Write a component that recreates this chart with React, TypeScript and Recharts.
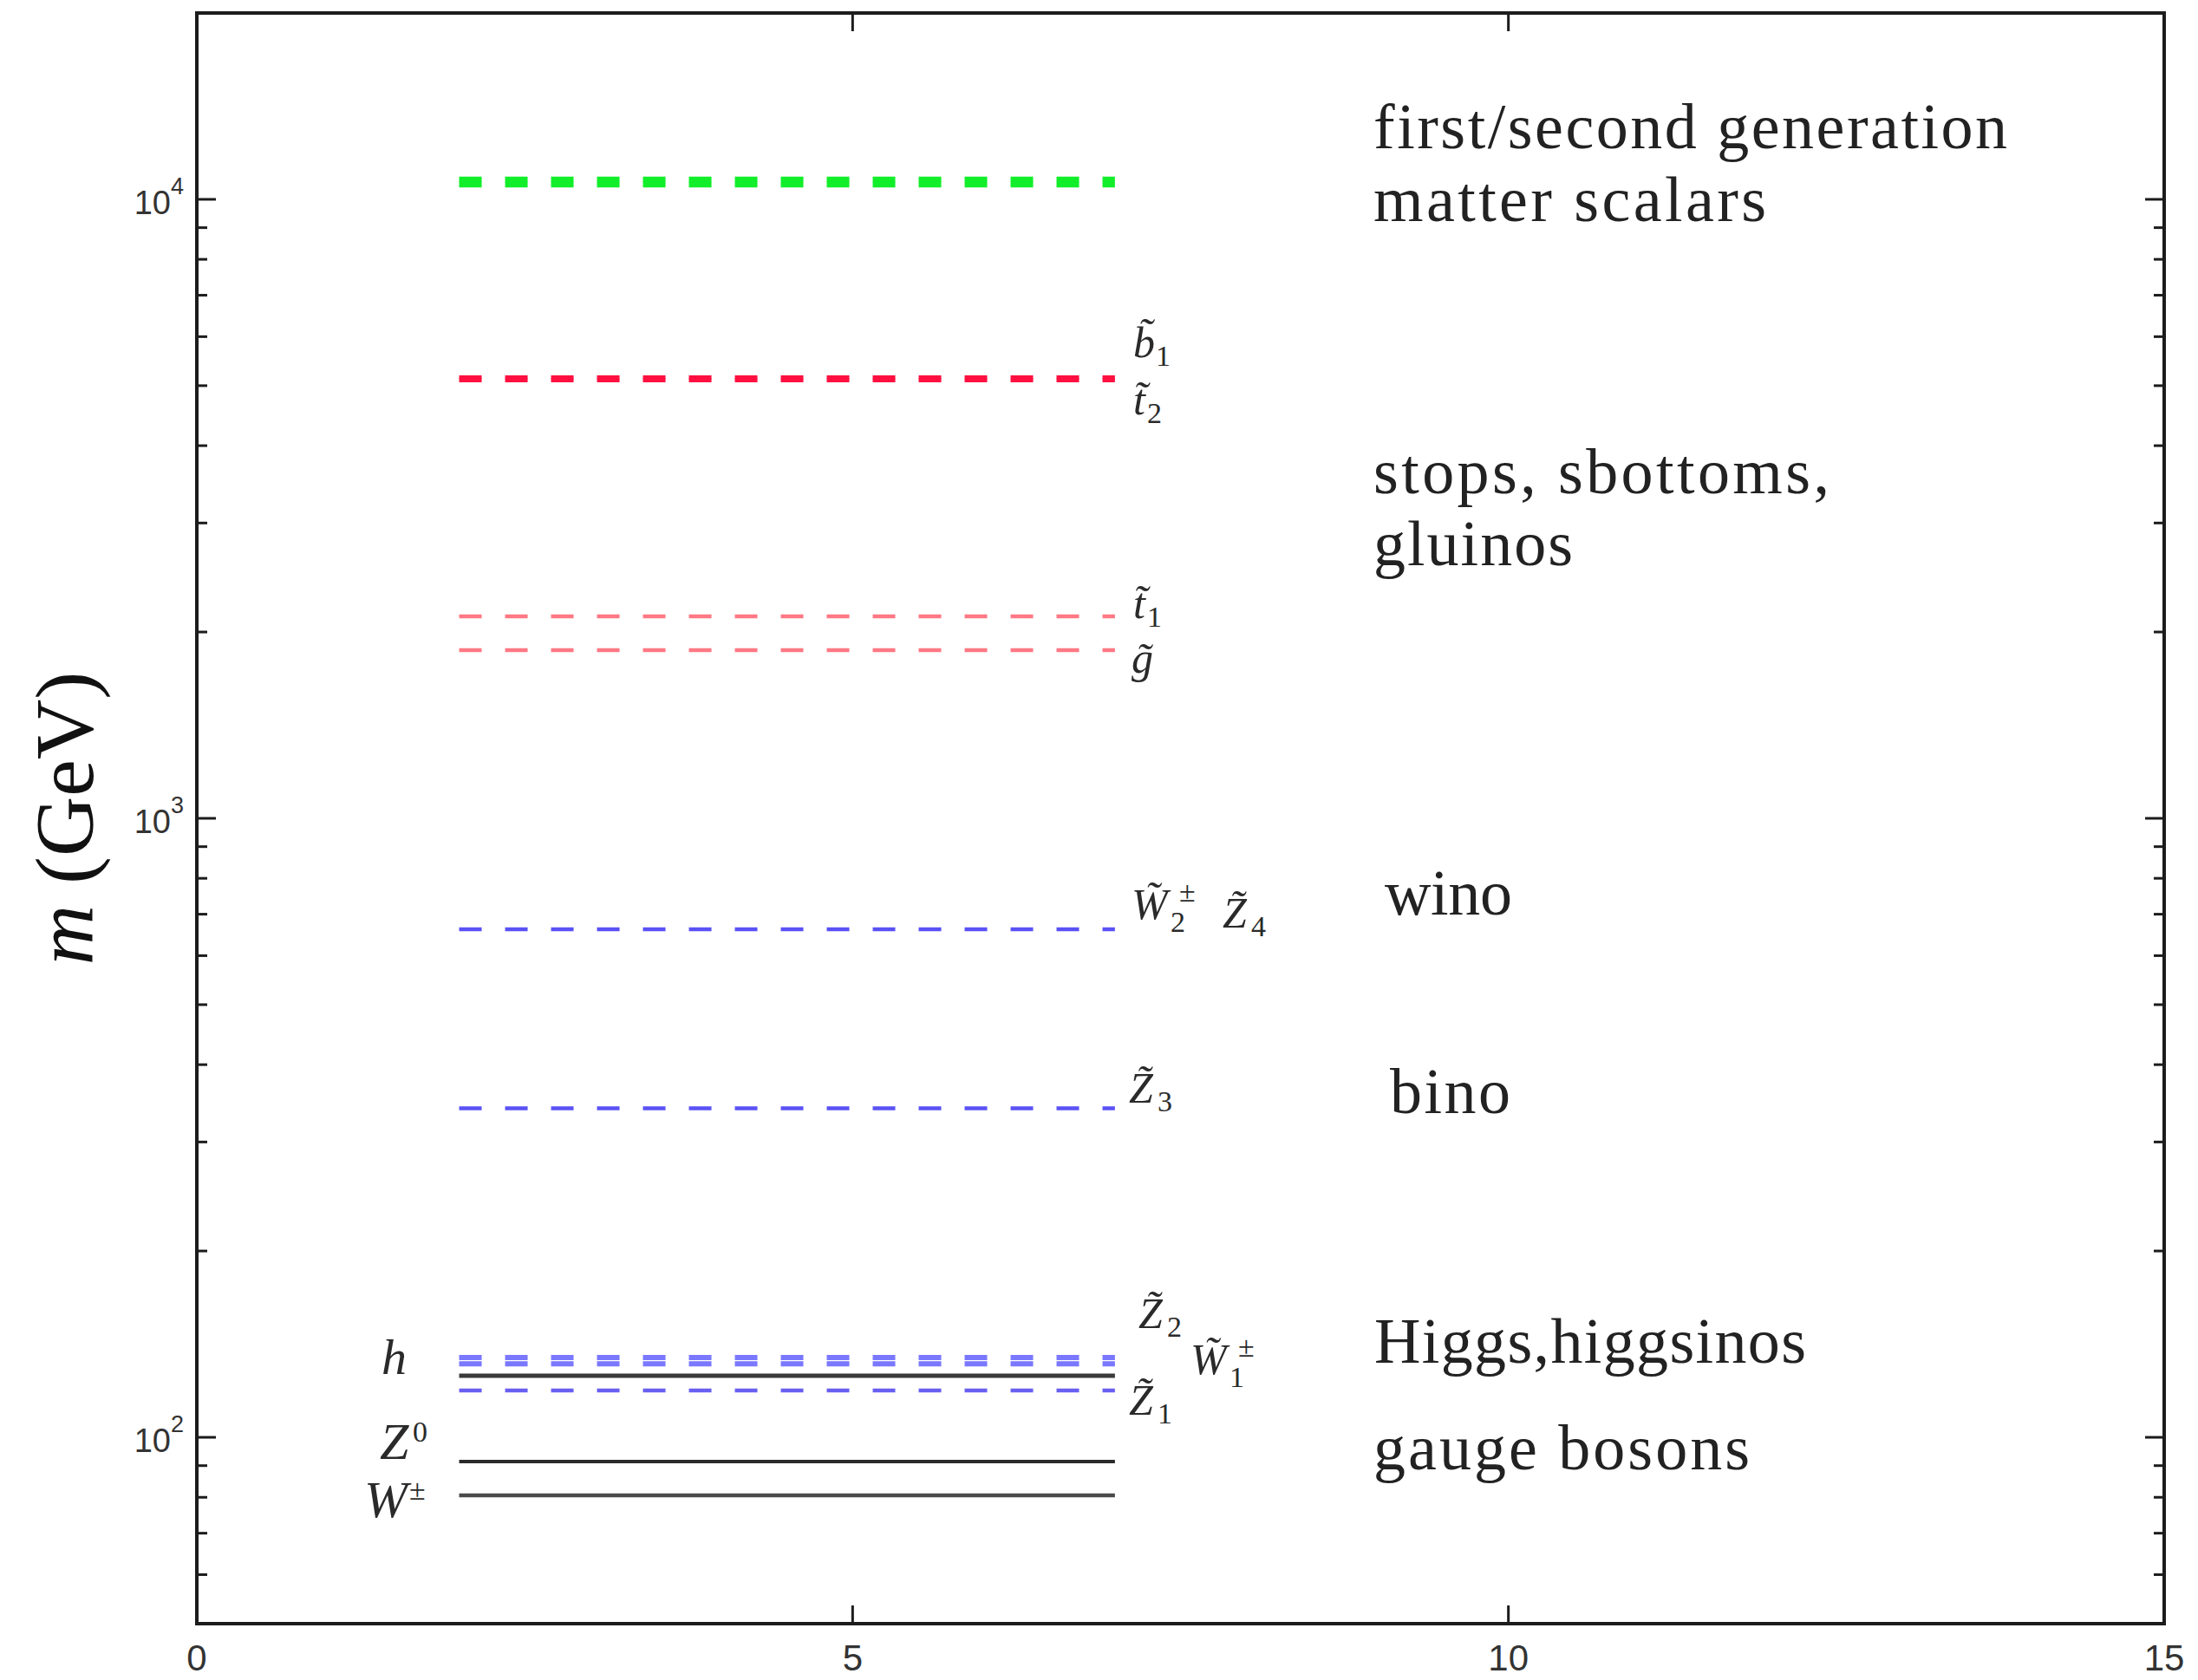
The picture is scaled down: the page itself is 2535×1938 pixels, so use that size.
import React from 'react';
import { ComposedChart, Line, XAxis, YAxis } from 'recharts';

const W = 2535;
const H = 1938;

// every mass level is drawn from x=2 to x=7
const levelSpan = [2, 7];

// mass levels in GeV
const levelKeys = ['sq1', 'sq2', 'sb1', 'st2', 'st1', 'gl', 'w2', 'z3', 'z2', 'w1', 'h', 'z1', 'z0', 'w'];
const levelMasses = [10770, 10560, 5160, 5100, 2120, 1870, 662, 340, 134.6, 131.5, 125.7, 119.0, 91.4, 80.6];

const xTicks = [0, 5, 10, 15];
const xTopTicks = [5, 10];
const yMajorTicks = [100, 1000, 10000];
const yMinorTicks = [60, 70, 80, 90, 200, 300, 400, 500, 600, 700, 800, 900, 2000, 3000, 4000, 5000, 6000, 7000, 8000, 9000];
const yTicks = [...yMinorTicks, ...yMajorTicks].sort((a, b) => a - b);

const groupTexts = [
  'first/second generation',
  'matter scalars',
  'stops, sbottoms,',
  'gluinos',
  'wino',
  'bino',
  'Higgs,higgsinos',
  'gauge bosons',
];

// styling of the levels
const DASH = '26 27';
const levelStyle: Record<string, { stroke: string; width: number; dash?: string }> = {
  sq1: { stroke: '#12ee2a', width: 6.5, dash: DASH },
  sq2: { stroke: '#12ee2a', width: 6.5, dash: DASH },
  sb1: { stroke: '#ff1040', width: 4.5, dash: DASH },
  st2: { stroke: '#ff1040', width: 4.5, dash: DASH },
  st1: { stroke: '#ff7884', width: 4.5, dash: DASH },
  gl: { stroke: '#ff7884', width: 4.5, dash: DASH },
  w2: { stroke: '#5a52f5', width: 4.5, dash: DASH },
  z3: { stroke: '#5a52f5', width: 4.5, dash: DASH },
  z2: { stroke: '#7a78ff', width: 6, dash: DASH },
  w1: { stroke: '#7a78ff', width: 6, dash: DASH },
  h: { stroke: '#3a3a3a', width: 5 },
  z1: { stroke: '#6a60f0', width: 4.5, dash: DASH },
  z0: { stroke: '#2a2a2a', width: 4 },
  w: { stroke: '#4a4a4a', width: 4.5 },
};

const SANS = "'Liberation Sans', Arial, sans-serif";
const SERIF = "'Liberation Serif', 'Times New Roman', serif";
const AXIS = '#1c1c1c';
const axisStroke = { stroke: AXIS, strokeWidth: 4, strokeLinecap: 'square' as const };

const LeftTick = (p: any) => {
  const { x, y, payload } = p;
  const ax = x + 15;
  const major = yMajorTicks.includes(payload.value);
  return (
    <g>
      <line x1={ax} x2={ax + (major ? 22 : 12)} y1={y} y2={y} stroke={AXIS} strokeWidth={3} />
      {major && (
        <text x={x} y={y + 17} textAnchor="end" fontFamily={SANS} fontSize={38} fill="#333">
          10<tspan dy={-23} fontSize={27}>{Math.round(Math.log10(payload.value))}</tspan>
        </text>
      )}
    </g>
  );
};

const RightTick = (p: any) => {
  const { x, y, payload } = p;
  const ax = x - 15;
  const major = yMajorTicks.includes(payload.value);
  return <line x1={ax} x2={ax - (major ? 22 : 12)} y1={y} y2={y} stroke={AXIS} strokeWidth={3} />;
};

const BottomTick = (p: any) => {
  const { x, y, payload } = p;
  const ay = y - 20;
  const edge = payload.value === 0 || payload.value === 15;
  return (
    <g>
      {!edge && <line x1={x} x2={x} y1={ay} y2={ay - 21} stroke={AXIS} strokeWidth={3} />}
      <text x={x} y={y + 34} textAnchor="middle" fontFamily={SANS} fontSize={42} fill="#333">
        {payload.value}
      </text>
    </g>
  );
};

const TopTick = (p: any) => {
  const { x, y } = p;
  const ay = y + 5;
  return <line x1={x} x2={x} y1={ay} y2={ay + 21} stroke={AXIS} strokeWidth={3} />;
};

// particle labels next to the levels: letter (with combining tilde), subscript, superscript
const particleLabels = [
  { base: 'b', sub: '1', x: 1307, y: 412, tilde: true },
  { base: 't', sub: '2', x: 1307, y: 478, tilde: true },
  { base: 't', sub: '1', x: 1307, y: 713, tilde: true },
  { base: 'g', x: 1305, y: 776, tilde: true },
  { base: 'W', sub: '2', sup: '±', x: 1305, y: 1060, tilde: true },
  { base: 'Z', sub: '4', x: 1410, y: 1070, tilde: true },
  { base: 'Z', sub: '3', x: 1302, y: 1272, tilde: true },
  { base: 'Z', sub: '2', x: 1313, y: 1532, tilde: true },
  { base: 'W', sub: '1', sup: '±', x: 1373, y: 1585, tilde: true },
  { base: 'Z', sub: '1', x: 1302, y: 1632, tilde: true },
  { base: 'h', x: 440, y: 1585, size: 58 },
  { base: 'Z', sup: '0', x: 438, y: 1683, size: 60, supDx: 38 },
  { base: 'W', sup: '±', x: 420, y: 1750, size: 60, supDx: 52 },
];

const glyph: Record<string, { sub: number; sup: number }> = {
  b: { sub: 26, sup: 26 },
  t: { sub: 16, sup: 16 },
  g: { sub: 26, sup: 26 },
  h: { sub: 26, sup: 28 },
  W: { sub: 45, sup: 55 },
  Z: { sub: 33, sup: 44 },
};

const groupLayout = [
  { x: 1584, y: 171, len: 731 },
  { x: 1584, y: 255, len: 453 },
  { x: 1584, y: 569, len: 526 },
  { x: 1584, y: 652, len: 230 },
  { x: 1597, y: 1055, len: 147 },
  { x: 1603, y: 1284, len: 139 },
  { x: 1585, y: 1572, len: 498 },
  { x: 1584, y: 1695, len: 434 },
];

const Particle = ({ base, sub, sup, x, y, tilde, size = 50, supDx }: any) => {
  const g = glyph[base];
  return (
    <text fontFamily={SERIF} fill="#2a2a2a">
      <tspan x={x} y={y} fontSize={size} fontStyle="italic">
        {tilde ? base + '\u0303' : base}
      </tspan>
      {sub && (
        <tspan x={x + g.sub} y={y + (sup ? 15 : 10)} fontSize={34}>
          {sub}
        </tspan>
      )}
      {sup && (
        <tspan x={x + (supDx ?? g.sup)} y={y - 20} fontSize={34}>
          {sup}
        </tspan>
      )}
    </text>
  );
};

export default function App() {
  return (
    <div style={{ position: 'absolute', left: 0, top: 0, width: W, height: H, background: '#fff' }}>
      <ComposedChart width={W} height={H} margin={{ top: 0, right: 0, bottom: 0, left: 0 }}>
        <XAxis
          xAxisId="bottom"
          type="number"
          dataKey="x"
          domain={[0, 15]}
          ticks={xTicks}
          interval={0}
          height={65}
          tickSize={0}
          tickMargin={20}
          tickLine={false}
          axisLine={axisStroke}
          tick={BottomTick}
          allowDataOverflow
        />
        <XAxis
          xAxisId="top"
          orientation="top"
          type="number"
          dataKey="x"
          domain={[0, 15]}
          ticks={xTopTicks}
          interval={0}
          height={15}
          tickSize={0}
          tickMargin={5}
          tickLine={false}
          axisLine={axisStroke}
          tick={TopTick}
          allowDataOverflow
        />
        <YAxis
          yAxisId="left"
          type="number"
          scale="log"
          domain={[50, 20000]}
          ticks={yTicks}
          interval={0}
          width={227}
          tickSize={0}
          tickMargin={15}
          tickLine={false}
          axisLine={axisStroke}
          tick={LeftTick}
          allowDataOverflow
        />
        <YAxis
          yAxisId="right"
          orientation="right"
          type="number"
          scale="log"
          domain={[50, 20000]}
          ticks={yTicks}
          interval={0}
          width={39}
          tickSize={0}
          tickMargin={15}
          tickLine={false}
          axisLine={axisStroke}
          tick={RightTick}
          allowDataOverflow
        />
        {levelKeys.map((key, i) => {
          const s = levelStyle[key];
          return (
            <Line
              key={key}
              data={levelSpan.map((x) => ({ x, m: levelMasses[i] }))}
              dataKey="m"
              xAxisId="bottom"
              yAxisId="left"
              type="linear"
              stroke={s.stroke}
              strokeWidth={s.width}
              strokeDasharray={s.dash}
              dot={false}
              activeDot={false}
              isAnimationActive={false}
            />
          );
        })}
      </ComposedChart>
      <svg
        width={W}
        height={H}
        style={{ position: 'absolute', left: 0, top: 0, pointerEvents: 'none' }}
      >
        <text
          transform="rotate(-90)"
          x={-944}
          y={107}
          textAnchor="middle"
          fontFamily={SERIF}
          fontSize={96}
          fill="#111"
        >
          <tspan fontStyle="italic">m</tspan> (GeV)
        </text>
        {particleLabels.map((p, i) => (
          <Particle key={i} {...p} />
        ))}
        {groupTexts.map((t, i) => (
          <text
            key={t}
            x={groupLayout[i].x}
            y={groupLayout[i].y}
            fontFamily={SERIF}
            fontSize={74}
            fill="#222"
            textLength={groupLayout[i].len}
            lengthAdjust="spacing"
          >
            {t}
          </text>
        ))}
      </svg>
    </div>
  );
}
